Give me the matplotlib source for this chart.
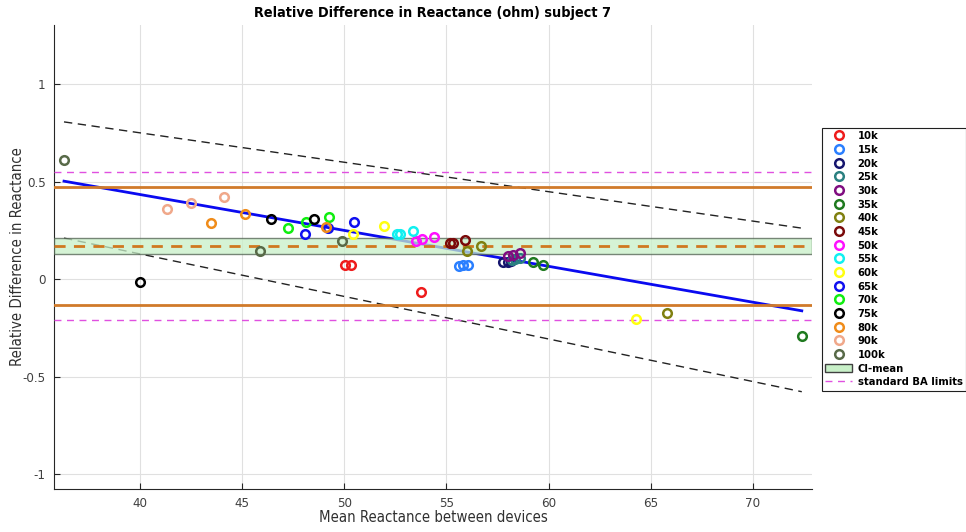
import matplotlib
matplotlib.use("Agg")
import matplotlib.pyplot as plt
from matplotlib.lines import Line2D
from matplotlib.patches import Patch

plt.rcParams['font.family'] = ['DejaVu Sans']
plt.rcParams['font.stretch'] = 'condensed'

# Frequencies and their marker colours
freqs = ['10k', '15k', '20k', '25k', '30k', '35k', '40k', '45k', '50k',
         '55k', '60k', '65k', '70k', '75k', '80k', '90k', '100k']
colors = ['#ee1c1c', '#2a7fff', '#15156e', '#2a8080', '#800d80', '#1f7a1f',
          '#808010', '#7a0a0a', '#ff10ff', '#10f0f0', '#ffff10', '#1010f0',
          '#10ee10', '#000000', '#f08c1a', '#f0a88a', '#586a48']

# Mean reactance (x) and relative difference (y), three measurements per frequency
mean_x = {
    '10k': [50.05, 50.31, 53.77],
    '15k': [55.60, 55.80, 56.04],
    '20k': [57.79, 57.99, 58.14],
    '25k': [58.19, 58.38, 58.58],
    '30k': [57.99, 58.28, 58.58],
    '35k': [59.23, 59.73, 72.40],
    '40k': [56.00, 56.70, 65.78],
    '45k': [55.15, 55.30, 55.90],
    '50k': [53.50, 53.79, 54.41],
    '55k': [52.58, 52.74, 53.35],
    '60k': [51.96, 50.43, 64.30],
    '65k': [48.05, 49.20, 50.47],
    '70k': [47.22, 48.14, 49.23],
    '75k': [46.40, 48.50, 40.00],
    '80k': [43.48, 45.11, 49.12],
    '90k': [41.31, 42.50, 44.10],
    '100k': [36.27, 45.88, 49.90],
}
rel_diff = {
    '10k': [0.073, 0.073, -0.067],
    '15k': [0.070, 0.073, 0.075],
    '20k': [0.089, 0.089, 0.094],
    '25k': [0.099, 0.104, 0.109],
    '30k': [0.119, 0.124, 0.135],
    '35k': [0.087, 0.073, -0.291],
    '40k': [0.147, 0.169, -0.174],
    '45k': [0.186, 0.188, 0.200],
    '50k': [0.196, 0.205, 0.218],
    '55k': [0.231, 0.232, 0.249],
    '60k': [0.273, 0.231, -0.205],
    '65k': [0.231, 0.262, 0.292],
    '70k': [0.265, 0.295, 0.321],
    '75k': [0.309, 0.311, -0.012],
    '80k': [0.290, 0.333, 0.270],
    '90k': [0.360, 0.393, 0.424],
    '100k': [0.612, 0.145, 0.196],
}

# Bland-Altman summary values
bias = 0.171
loa = [0.475, -0.132]
std_ba = [0.552, -0.210]
ci_mean = [0.128, 0.213]
# Proportional-bias regression and its limits at the ends of the data range
reg_line = [0.504, -0.161]
reg_upper = [0.808, 0.263]
reg_lower = [0.212, -0.576]

all_x = [v for k in freqs for v in mean_x[k]]
x_ends = [min(all_x), max(all_x)]

fig = plt.figure(figsize=(9.66, 5.32), dpi=100)
ax = fig.add_axes([54 / 966, 1 - 489 / 532, (812 - 54) / 966, (489 - 25) / 532])

ax.set_xlim(35.78, 72.9)
ax.set_ylim(-1.075, 1.305)

ax.plot(x_ends, reg_upper, color='#222222', ls=(0, (6, 4)), lw=1.0, zorder=2)
ax.plot(x_ends, reg_lower, color='#222222', ls=(0, (6, 4)), lw=1.0, zorder=2)
ax.plot(x_ends, reg_line, color='#0a0af0', lw=2.0, zorder=2)

ax.axhspan(ci_mean[0], ci_mean[1], facecolor='#c8f0c8', edgecolor='#506050',
           lw=1.0, alpha=0.75, zorder=3)
ax.axhline(bias, color='#d07820', ls=(0, (4, 3)), lw=2.0, zorder=4)
for v in loa:
    ax.axhline(v, color='#d07a2a', lw=2.0, zorder=4)
for v in std_ba:
    ax.axhline(v, color='#e050e0', ls=(0, (5, 4)), lw=1.0, zorder=4)

handles = []
for f, c in zip(freqs, colors):
    ax.plot(mean_x[f], rel_diff[f], ls='none', marker='o', ms=6.2,
            mfc='none', mec=c, mew=1.8, zorder=5)
    handles.append(Line2D([], [], ls='none', marker='o', ms=6.2, mfc='none',
                          mec=c, mew=1.8, label=f))
handles.append(Patch(facecolor='#c8f0c8', edgecolor='#404040', lw=1.0,
                     label='CI-mean'))
handles.append(Line2D([], [], color='#e050e0', ls=(0, (5, 4)), lw=1.0,
                      label='standard BA limits'))

ax.set_xticks([40, 45, 50, 55, 60, 65, 70])
ax.set_yticks([-1, -0.5, 0, 0.5, 1])
ax.set_yticklabels(['-1', '-0.5', '0', '0.5', '1'])
ax.grid(True, color='#e0e0e0', lw=0.8)
ax.set_axisbelow(True)
for s in ['top', 'right']:
    ax.spines[s].set_visible(False)
for s in ['left', 'bottom']:
    ax.spines[s].set_color('#262626')
    ax.spines[s].set_linewidth(0.8)
ax.tick_params(direction='in', length=4, width=0.8, colors='#262626',
               labelsize=9.5, labelcolor='#404040', pad=6)

ax.set_title('Relative Difference in Reactance (ohm) subject 7',
             fontsize=10.4, fontweight='bold', pad=6)
ax.set_xlabel('Mean Reactance between devices', fontsize=10.7, color='#303030')
ax.set_ylabel('Relative Difference in Reactance', fontsize=10.7, color='#303030')
ax.xaxis.set_label_coords(0.5, -0.045)
ax.yaxis.set_label_coords(-0.038, 0.5)

leg = fig.legend(handles=handles, loc='upper left',
                 bbox_to_anchor=(822 / 966, 1 - 128 / 532),
                 prop={'size': 8, 'weight': 'bold', 'stretch': 'condensed'},
                 frameon=True, fancybox=False, edgecolor='#202020',
                 framealpha=1, labelspacing=0.33, handlelength=2.4,
                 handletextpad=0.5, borderpad=0.3, borderaxespad=0)
leg.get_frame().set_linewidth(0.8)

fig.savefig('out.png', dpi=100)
